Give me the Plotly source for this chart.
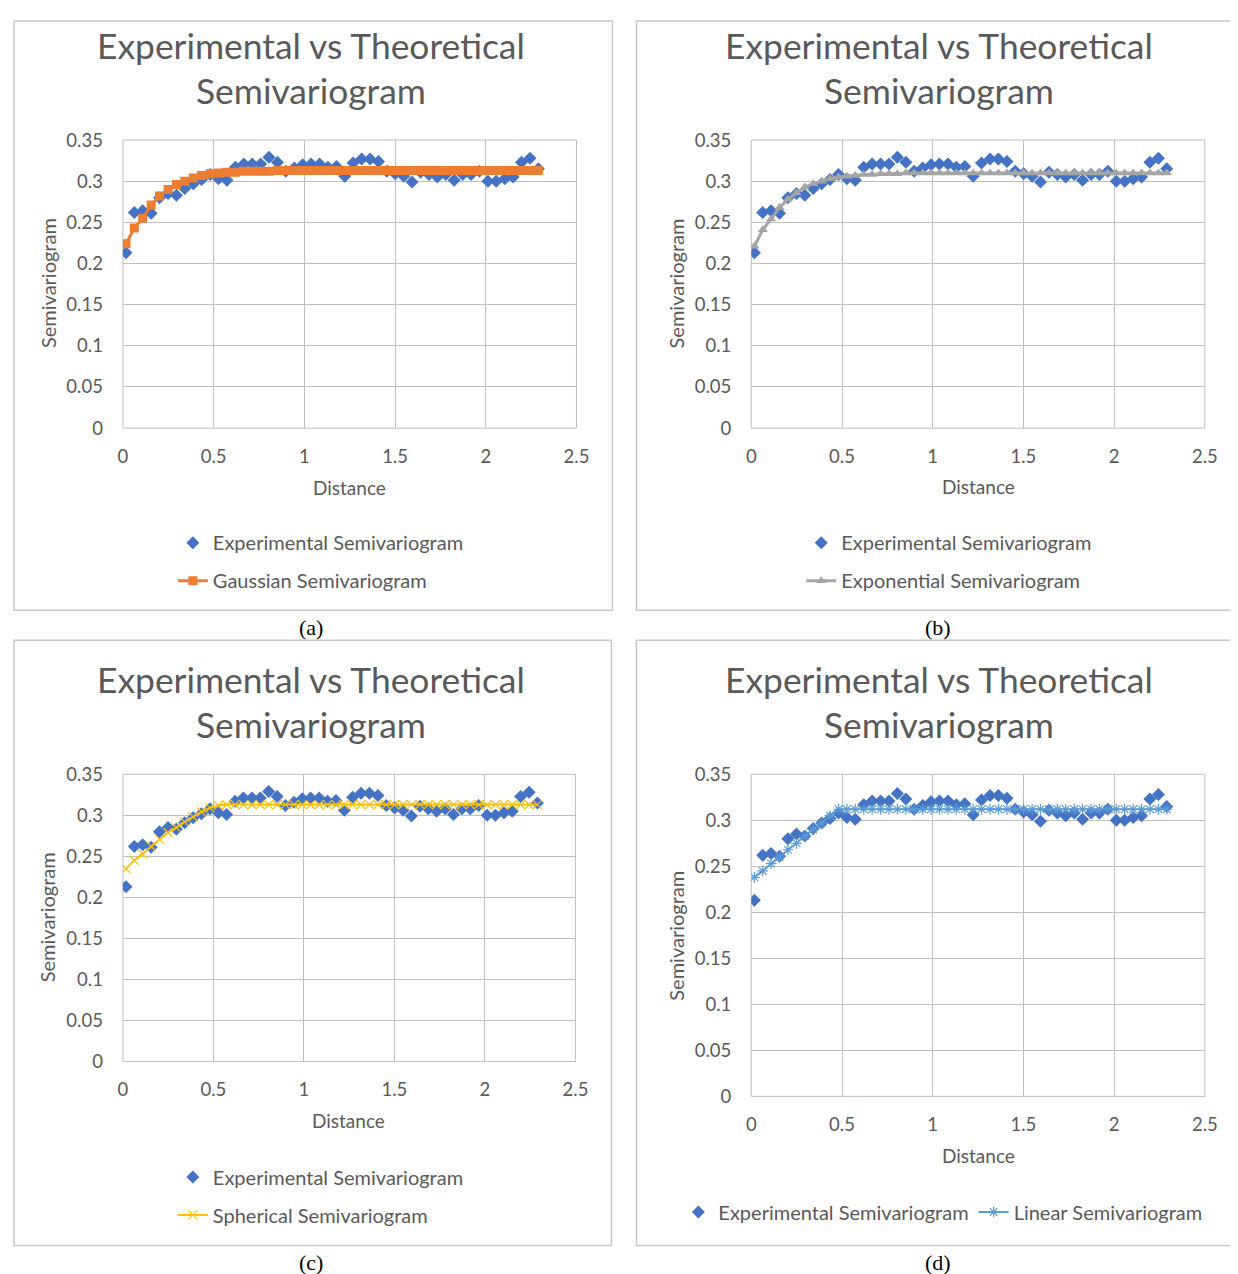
import plotly.graph_objects as go

W, H = 1246, 1282

# ---------------- data ----------------
dist = [0.017, 0.063, 0.109, 0.156, 0.202, 0.249, 0.295, 0.341, 0.388, 0.434,
        0.481, 0.527, 0.573, 0.620, 0.666, 0.713, 0.759, 0.805, 0.852, 0.898,
        0.945, 0.991, 1.037, 1.084, 1.130, 1.177, 1.223, 1.269, 1.316, 1.362,
        1.409, 1.455, 1.501, 1.548, 1.594, 1.641, 1.687, 1.733, 1.780, 1.826,
        1.873, 1.919, 1.965, 2.012, 2.058, 2.105, 2.151, 2.197, 2.244, 2.290]

experimental = [0.213, 0.262, 0.264, 0.261, 0.280, 0.285, 0.283, 0.291, 0.297, 0.302,
                0.308, 0.303, 0.301, 0.317, 0.321, 0.321, 0.321, 0.329, 0.323, 0.312,
                0.316, 0.320, 0.321, 0.321, 0.317, 0.318, 0.306, 0.322, 0.327, 0.327,
                0.324, 0.312, 0.309, 0.306, 0.299, 0.311, 0.308, 0.305, 0.308, 0.301,
                0.308, 0.308, 0.312, 0.300, 0.300, 0.303, 0.305, 0.323, 0.328, 0.315]

gaussian = [0.224, 0.243, 0.255, 0.271, 0.282, 0.290, 0.296, 0.300, 0.304, 0.307,
            0.309, 0.310, 0.311, 0.311, 0.312, 0.312, 0.312, 0.312, 0.313, 0.313,
            0.313, 0.313, 0.313, 0.313, 0.313, 0.313, 0.313, 0.313, 0.313, 0.313,
            0.313, 0.313, 0.313, 0.313, 0.313, 0.313, 0.313, 0.313, 0.313, 0.313,
            0.313, 0.313, 0.313, 0.313, 0.313, 0.313, 0.313, 0.313, 0.313, 0.313]

exponential = [0.221, 0.241, 0.254, 0.268, 0.278, 0.286, 0.293, 0.297, 0.300, 0.303,
               0.305, 0.306, 0.307, 0.308, 0.308, 0.309, 0.309, 0.309, 0.310, 0.310,
               0.310, 0.310, 0.310, 0.310, 0.310, 0.310, 0.310, 0.310, 0.310, 0.310,
               0.310, 0.310, 0.310, 0.310, 0.310, 0.310, 0.310, 0.310, 0.310, 0.310,
               0.310, 0.310, 0.310, 0.310, 0.310, 0.310, 0.310, 0.310, 0.310, 0.310]

spherical = [0.235, 0.245, 0.253, 0.262, 0.271, 0.279, 0.285, 0.292, 0.298, 0.304,
             0.309, 0.312, 0.313, 0.313, 0.313, 0.313, 0.313, 0.313, 0.313, 0.313,
             0.313, 0.313, 0.313, 0.313, 0.313, 0.313, 0.313, 0.313, 0.313, 0.313,
             0.313, 0.313, 0.313, 0.313, 0.313, 0.313, 0.313, 0.313, 0.313, 0.313,
             0.313, 0.313, 0.313, 0.313, 0.313, 0.313, 0.313, 0.313, 0.313, 0.313]

linear = [0.238, 0.245, 0.253, 0.260, 0.268, 0.275, 0.283, 0.290, 0.297, 0.305,
          0.312, 0.312, 0.312, 0.312, 0.312, 0.312, 0.312, 0.312, 0.312, 0.312,
          0.312, 0.312, 0.312, 0.312, 0.312, 0.312, 0.312, 0.312, 0.312, 0.312,
          0.312, 0.312, 0.312, 0.312, 0.312, 0.312, 0.312, 0.312, 0.312, 0.312,
          0.312, 0.312, 0.312, 0.312, 0.312, 0.312, 0.312, 0.312, 0.312, 0.312]

titles = ["Experimental vs Theoretical", "Semivariogram"]
captions = ["(a)", "(b)", "(c)", "(d)"]
model_names = ["Gaussian Semivariogram", "Exponential Semivariogram",
               "Spherical Semivariogram", "Linear Semivariogram"]
model_values = [gaussian, exponential, spherical, linear]

# ---------------- styles ----------------
TXT = "#595959"
FONT = "Lato"
GRID = "#bfbfbf"
BLUE = "#4472C4"
model_colors = ["#ED7D31", "#A5A5A5", "#FFC000", "#5B9BD5"]
model_symbols = ["square", "triangle-up", "x-thin-open", "asterisk-open"]
model_line_w = [3, 3, 2, 2]
model_marker_size = [9, 9, 9, 9]

# mapping from target-image pixels to figure fractions (measured calibration)
KX, AX = 0.9865, 12.0
KY, AY = 0.9825, 19.0


def fx(s):
    f = max((s - AX) / KX, 1.0)
    return f / W


def fy(s):
    f = max((s - AY) / KY, 1.0)
    return 1 - f / H


panels = [
    dict(box=(8, 5, 612, 609), plot=(122, 139, 576, 427), cx=310, t1=44, t2=89,
         ytx=47, yty=282, xtx=349, xty=486, cap=(310, 626)),
    dict(box=(636, 5, 1233, 609), plot=(751, 139, 1205, 427), cx=939, t1=44, t2=89,
         ytx=676, yty=282, xtx=978, xty=485, cap=(938, 626)),
    dict(box=(8, 639, 611, 1244), plot=(122, 773, 575, 1060), cx=310, t1=678, t2=723,
         ytx=46, yty=916, xtx=348, xty=1119, cap=(310, 1261)),
    dict(box=(636, 639, 1237, 1244), plot=(751, 773, 1205, 1095), cx=939, t1=678, t2=723,
         ytx=676, yty=934, xtx=978, xty=1154, cap=(938, 1261)),
]

fig = go.Figure()
layout = dict(width=W, height=H, margin=dict(l=0, r=0, t=0, b=0),
              paper_bgcolor="white", plot_bgcolor="white",
              font=dict(family=FONT, color=TXT), showlegend=True)
annotations = []
shapes = []
tickfont = dict(size=18.5, color=TXT, family=FONT)

for i, p in enumerate(panels):
    n = "" if i == 0 else str(i + 1)
    xa, ya = "x" + n, "y" + n
    leg = "legend" if i == 0 else "legend" + str(i + 1)
    x0, y0, x1, y1 = p["plot"]
    layout["xaxis" + n] = dict(domain=[fx(x0), fx(x1)], range=[0, 2.5], dtick=0.5,
                               anchor=ya, showgrid=True, gridcolor=GRID, gridwidth=1,
                               zeroline=False, showline=False, ticks="",
                               ticklabelstandoff=15, tickfont=tickfont,
                               fixedrange=True)
    layout["yaxis" + n] = dict(domain=[fy(y1), fy(y0)], range=[0, 0.35], dtick=0.05,
                               anchor=xa, showgrid=True, gridcolor=GRID, gridwidth=1,
                               zeroline=False, showline=False, ticks="",
                               ticklabelstandoff=19, tickfont=tickfont,
                               fixedrange=True)
    shapes.append(dict(type="rect", xref=xa + " domain", yref=ya + " domain",
                       x0=0, y0=0, x1=1, y1=1, line=dict(color=GRID, width=1),
                       layer="below"))
    bx0, by0, bx1, by1 = p["box"]
    shapes.append(dict(type="rect", xref="paper", yref="paper",
                       x0=fx(bx0), y0=fy(by1), x1=fx(bx1), y1=fy(by0),
                       line=dict(color="#c8c8c8", width=1.5)))

    fig.add_trace(go.Scatter(x=dist, y=experimental, mode="markers",
                             name="Experimental Semivariogram",
                             marker=dict(symbol="diamond", size=10, color=BLUE),
                             xaxis=xa, yaxis=ya, legend=leg, legendgroup="e" + n))
    mk = dict(symbol=model_symbols[i], size=model_marker_size[i], color=model_colors[i])
    if i >= 2:
        mk["line"] = dict(width=1.2, color=model_colors[i])
    fig.add_trace(go.Scatter(x=dist, y=model_values[i], mode="lines+markers",
                             name=model_names[i],
                             line=dict(color=model_colors[i], width=model_line_w[i]),
                             marker=mk, xaxis=xa, yaxis=ya, legend=leg,
                             legendgroup="m" + n))

    for t, yy in ((titles[0], p["t1"]), (titles[1], p["t2"])):
        annotations.append(dict(text=t, x=fx(p["cx"]), y=fy(yy), xref="paper",
                                yref="paper", showarrow=False, xanchor="center",
                                yanchor="middle",
                                font=dict(size=35.4, color=TXT, family=FONT)))
    annotations.append(dict(text="Semivariogram", x=fx(p["ytx"]), y=fy(p["yty"]),
                            xref="paper", yref="paper", showarrow=False, textangle=-90,
                            xanchor="center", yanchor="middle",
                            font=dict(size=20, color=TXT, family=FONT)))
    annotations.append(dict(text="Distance", x=fx(p["xtx"]), y=fy(p["xty"]),
                            xref="paper", yref="paper", showarrow=False,
                            xanchor="center", yanchor="middle",
                            font=dict(size=19, color=TXT, family=FONT)))
    annotations.append(dict(text=captions[i], x=fx(p["cap"][0]), y=fy(p["cap"][1]),
                            xref="paper", yref="paper", showarrow=False,
                            xanchor="center", yanchor="middle",
                            font=dict(size=22, color="black", family="Liberation Serif")))

legend_font = dict(size=20, color=TXT, family=FONT)
common = dict(xanchor="left", yanchor="top", font=legend_font,
              bgcolor="rgba(0,0,0,0)")
layout["legend"] = dict(x=fx(172), y=fy(522), orientation="v", tracegroupgap=9, **common)
layout["legend2"] = dict(x=fx(801), y=fy(522), orientation="v", tracegroupgap=9, **common)
layout["legend3"] = dict(x=fx(172), y=fy(1156), orientation="v", tracegroupgap=9, **common)
layout["legend4"] = dict(x=fx(678), y=fy(1191), orientation="h", **common)

layout["annotations"] = annotations
layout["shapes"] = shapes
fig.update_layout(**layout)
fig.write_html("out.html")
